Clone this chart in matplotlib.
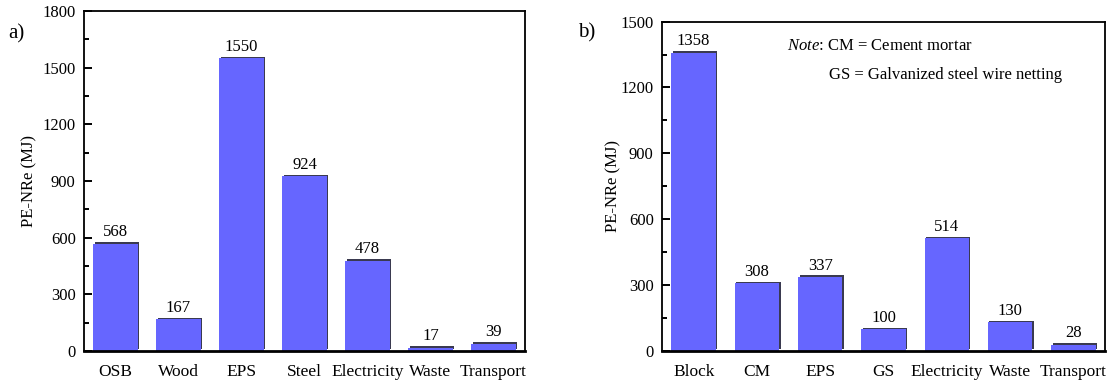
import matplotlib
matplotlib.use('Agg')
import matplotlib.pyplot as plt
import matplotlib.ticker as ticker
import matplotlib.patheffects as pe

plt.rcParams['font.family'] = ['Liberation Serif', 'DejaVu Serif']
plt.rcParams['mathtext.fontset'] = 'custom'
plt.rcParams['mathtext.it'] = 'Liberation Serif:italic'
plt.rcParams['mathtext.rm'] = 'Liberation Serif'

# panel a
cats_a = ['OSB', 'Wood', 'EPS', 'Steel', 'Electricity', 'Waste', 'Transport']
vals_a = [568, 167, 1550, 924, 478, 17, 39]
# panel b
cats_b = ['Block', 'CM', 'EPS', 'GS', 'Electricity', 'Waste', 'Transport']
vals_b = [1358, 308, 337, 100, 514, 130, 28]

BAR = '#6666ff'
W, H = 1107, 389
FS = 12


def draw_panel(ax, cats, vals, ymax, ylab_x):
    x = range(len(cats))
    bars = ax.bar(x, vals, width=0.7, color=BAR, edgecolor='none', zorder=2)
    for b in bars:
        b.set_path_effects([pe.SimplePatchShadow(offset=(1.1, 1.1), shadow_rgbFace='#3a3a50', alpha=1.0),
                            pe.Normal()])
    for xi, v in zip(x, vals):
        ax.annotate(str(v), (xi, v), xytext=(0, 2.5), textcoords='offset points',
                    ha='center', va='bottom', fontsize=FS)
    ax.set_xlim(-0.5, len(cats) - 0.5)
    ax.set_ylim(0, ymax)
    ax.set_xticks(list(x))
    ax.set_xticklabels(cats, fontsize=12.5)
    ax.yaxis.set_major_locator(ticker.MultipleLocator(300))
    ax.yaxis.set_minor_locator(ticker.MultipleLocator(150))
    ax.tick_params(axis='x', length=0, pad=9)
    ax.tick_params(axis='y', which='major', direction='in', length=6, width=1.4, labelsize=FS, pad=6)
    ax.tick_params(axis='y', which='minor', direction='in', length=3.5, width=1.4)
    for s in ['left', 'right', 'top']:
        ax.spines[s].set_linewidth(1.3)
    ax.spines['bottom'].set_linewidth(2.0)
    ax.set_ylabel('PE-NRe (MJ)', fontsize=FS)
    ax.yaxis.set_label_coords(ylab_x, 0.5)


fig = plt.figure(figsize=(W / 100, H / 100), dpi=100)
ax1 = fig.add_axes([84 / W, 1 - 351 / H, (525 - 84) / W, (351 - 11) / H])
ax2 = fig.add_axes([662 / W, 1 - 351 / H, (1105 - 662) / W, (351 - 21.6) / H])

draw_panel(ax1, cats_a, vals_a, 1800, (37 - 84) / (525 - 84))
draw_panel(ax2, cats_b, vals_b, 1500, (621 - 662) / (1105 - 662))

fig.text(8 / W, 1 - 34 / H, 'a)', fontsize=15, va='center', ha='left')
fig.text(578 / W, 1 - 33 / H, 'b)', fontsize=15, va='center', ha='left')

fig.text(787 / W, 1 - 46 / H, r'$\mathit{Note}$: CM = Cement mortar',
         fontsize=FS, va='center', ha='left')
fig.text(829 / W, 1 - 75 / H, 'GS = Galvanized steel wire netting',
         fontsize=FS, va='center', ha='left')

fig.savefig('out.png', dpi=100)
